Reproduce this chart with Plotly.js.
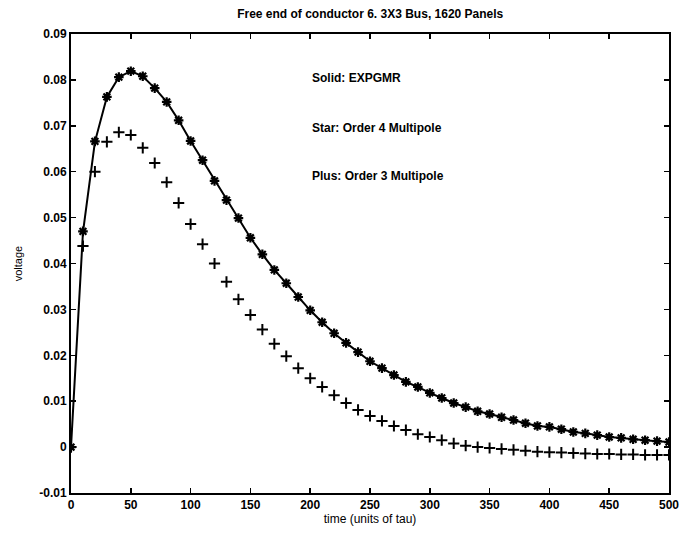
<!DOCTYPE html>
<html>
<head>
<meta charset="utf-8">
<script src="https://cdn.plot.ly/plotly-3.0.1.min.js"></script>
<style>html,body{margin:0;padding:0;background:#fff;}#plot{width:692px;height:536px;}</style>
</head>
<body>
<div id="plot"></div>
<script>
// time samples (units of tau)
const timeVals = [0,10,20,30,40,50,60,70,80,90,100,110,120,130,140,150,160,170,180,190,200,
  210,220,230,240,250,260,270,280,290,300,310,320,330,340,350,360,370,380,390,400,
  410,420,430,440,450,460,470,480,490,500];

// Solid: EXPGMR
const expgmrV = [0,0.0468,0.0665,0.0763,0.0806,0.0819,0.0808,0.0782,0.0752,0.0712,0.0667,
  0.0625,0.0580,0.0538,0.0499,0.0456,0.0420,0.0386,0.0357,0.0327,0.0298,
  0.0272,0.0248,0.0227,0.0207,0.0187,0.0172,0.0157,0.0142,0.0131,0.0118,
  0.0107,0.0096,0.0087,0.0078,0.0072,0.0065,0.0059,0.0052,0.0046,0.0044,
  0.0039,0.0033,0.0030,0.0026,0.0022,0.0020,0.0017,0.0015,0.0013,0.0011];

// Star: Order 4 Multipole
const order4V = [0,0.0470,0.0666,0.0763,0.0806,0.0819,0.0808,0.0782,0.0752,0.0712,0.0667,
  0.0625,0.0580,0.0538,0.0499,0.0456,0.0420,0.0386,0.0357,0.0327,0.0298,
  0.0272,0.0248,0.0227,0.0207,0.0187,0.0172,0.0157,0.0142,0.0131,0.0118,
  0.0107,0.0096,0.0087,0.0078,0.0072,0.0065,0.0059,0.0052,0.0046,0.0044,
  0.0039,0.0033,0.0030,0.0026,0.0022,0.0020,0.0017,0.0015,0.0013,0.0011];

// Plus: Order 3 Multipole
const order3V = [0,0.0438,0.0600,0.0665,0.0686,0.0680,0.0652,0.0619,0.0577,0.0532,0.0486,
  0.0442,0.0400,0.0360,0.0322,0.0288,0.0256,0.0225,0.0198,0.0172,0.0150,
  0.0131,0.0113,0.0096,0.0081,0.0068,0.0057,0.0046,0.0037,0.0028,0.0022,
  0.0015,0.0008,0.0003,0.0000,-0.0002,-0.0004,-0.0006,-0.0008,-0.0010,-0.0011,
  -0.0012,-0.0013,-0.0014,-0.0015,-0.0015,-0.0016,-0.0016,-0.0017,-0.0017,-0.0017];

const xTicks = [0,50,100,150,200,250,300,350,400,450,500];
const yTicks = [-0.01,0,0.01,0.02,0.03,0.04,0.05,0.06,0.07,0.08,0.09];
const yTickText = ['-0.01','0','0.01','0.02','0.03','0.04','0.05','0.06','0.07','0.08','0.09'];
const notes = ['Solid: EXPGMR','Star: Order 4 Multipole','Plus: Order 3 Multipole'];
const noteY = [0.0804,0.0696,0.0590];

const traces = [
  {x: timeVals, y: expgmrV, mode: 'lines', line: {color: '#000', width: 2}, hoverinfo: 'skip'},
  {x: timeVals, y: order4V, mode: 'markers', marker: {symbol: 'asterisk-open', size: 8, color: '#000', line: {color: '#000', width: 2.2}}},
  {x: timeVals, y: order3V, mode: 'markers', marker: {symbol: 'cross-thin-open', size: 8, color: '#000', line: {color: '#000', width: 2}}}
];

const fnt = {family: 'Liberation Sans, Arial, sans-serif', size: 12, color: '#000'};
const layout = {
  width: 692, height: 536,
  margin: {l: 71, r: 23, t: 34, b: 43},
  paper_bgcolor: '#fff', plot_bgcolor: '#fff',
  showlegend: false,
  title: {text: '<b>Free end of conductor 6. 3X3 Bus, 1620 Panels</b>', font: {family: fnt.family, size: 12, color: '#000'}, x: 0.535, xanchor: 'center', y: 0.975, yanchor: 'middle'},
  xaxis: {
    range: [0, 500], tickvals: xTicks, ticktext: xTicks.map(String),
    ticks: 'inside', ticklen: 5, tickwidth: 1.5, tickcolor: '#000',
    showline: true, linecolor: '#000', linewidth: 2, mirror: 'ticks',
    showgrid: false, zeroline: false,
    tickfont: {family: fnt.family, size: 12, color: '#000', weight: 'bold'},
    title: {text: 'time (units of tau)', font: {family: fnt.family, size: 12, color: '#000'}, standoff: 1}
  },
  yaxis: {
    range: [-0.01, 0.09], tickvals: yTicks, ticktext: yTickText,
    ticks: 'inside', ticklen: 5, tickwidth: 1.5, tickcolor: '#000',
    showline: true, linecolor: '#000', linewidth: 2, mirror: 'ticks',
    showgrid: false, zeroline: false,
    tickfont: {family: fnt.family, size: 12, color: '#000', weight: 'bold'},
    title: {text: 'voltage', font: {family: fnt.family, size: 11, color: '#000'}, standoff: 14}
  },
  annotations: notes.map((t, i) => ({
    x: 200, y: noteY[i], xref: 'x', yref: 'y', text: t, showarrow: false,
    xanchor: 'left', yanchor: 'middle',
    font: {family: fnt.family, size: 12, color: '#000', weight: 'bold'}
  }))
};

Plotly.newPlot('plot', traces, layout, {displayModeBar: false, staticPlot: true});
</script>
</body>
</html>
